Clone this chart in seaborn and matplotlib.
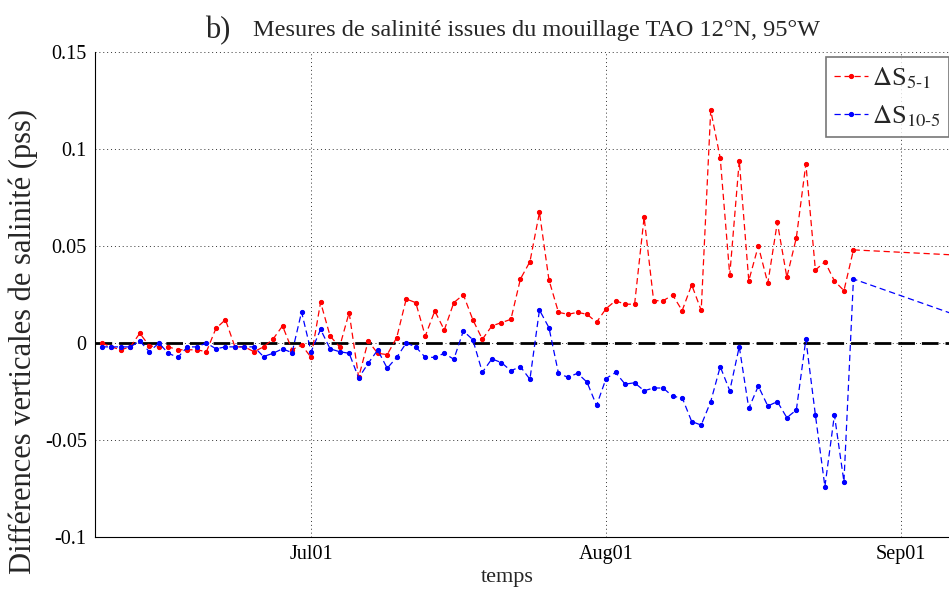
import pandas as pd
import numpy as np
import matplotlib
matplotlib.use("Agg")
import matplotlib.pyplot as plt
import matplotlib.dates as mdates
import seaborn as sns

# daily values, 9 Jun -> 27 Aug, plus one later point
dates = list(pd.date_range("2003-06-09", "2003-08-27", freq="D")) + [pd.Timestamp("2003-09-15")]

ds_5_1 = [0.000, -0.002, -0.0035, -0.002, 0.005, -0.0015, -0.002, -0.002, -0.0035, -0.0035,
          -0.0035, -0.0045, 0.0075, 0.012, -0.002, -0.002, -0.0045, -0.002, 0.002, 0.0088,
          -0.0035, -0.001, -0.0074, 0.021, 0.0036, -0.002, 0.0157, -0.0177, 0.001, -0.0053,
          -0.006, 0.0028, 0.0227, 0.0208, 0.0036, 0.0165, 0.0067, 0.0208, 0.0249, 0.012,
          0.0019, 0.0088, 0.0105, 0.0122, 0.033, 0.0419, 0.0673, 0.0325, 0.0158, 0.0148,
          0.0158, 0.0148, 0.0107, 0.0177, 0.0218, 0.020, 0.020, 0.0648, 0.0218, 0.0218,
          0.0247, 0.0167, 0.030, 0.0168, 0.120, 0.0953, 0.035, 0.094, 0.0321, 0.050,
          0.0308, 0.0622, 0.0339, 0.0543, 0.0923, 0.0376, 0.0419, 0.032, 0.027, 0.048,
          0.0433]

ds_10_5 = [-0.002, -0.002, -0.002, -0.002, 0.001, -0.0045, 0.000, -0.0053, -0.0074, -0.002,
           -0.002, 0.000, -0.003, -0.002, -0.002, -0.002, -0.002, -0.007, -0.0053, -0.003,
           -0.005, 0.016, -0.0045, 0.007, -0.003, -0.0045, -0.0053, -0.018, -0.0105, -0.0036,
           -0.013, -0.0074, 0.000, -0.002, -0.0074, -0.0074, -0.0053, -0.0084, 0.0062, 0.0017,
           -0.0151, -0.0082, -0.0101, -0.0143, -0.0122, -0.0187, 0.017, 0.0079, -0.0156, -0.0177,
           -0.0156, -0.0202, -0.0322, -0.0183, -0.0152, -0.0212, -0.0205, -0.0246, -0.0232, -0.0232,
           -0.0275, -0.0282, -0.0405, -0.0423, -0.0302, -0.0122, -0.0246, -0.0019, -0.0337, -0.0222,
           -0.0325, -0.0302, -0.0385, -0.0345, 0.0019, -0.0371, -0.074, -0.0371, -0.0715, 0.033,
           0.0002]

df = pd.DataFrame({"date": dates, "ds51": ds_5_1, "ds105": ds_10_5})

sns.set_style("white")
plt.rcParams["font.family"] = ["Liberation Serif", "DejaVu Serif"]
plt.rcParams["mathtext.fontset"] = "stix"

fig = plt.figure(figsize=(9.49, 5.93), dpi=100)
ax = fig.add_axes([95 / 949, 1 - 537 / 593, 1 - 95 / 949, (537 - 52) / 593])

ax.axhline(0, color="black", linewidth=2, linestyle=(0, (6, 2.5)), zorder=1)

sns.lineplot(data=df, x="date", y="ds51", ax=ax, color="#ff0000", marker=".",
             markersize=6, markeredgecolor="#ff0000", linewidth=0.9,
             linestyle=(0, (5, 3)), label=r"$\Delta$S$_{5\text{-}1}$", zorder=3)
sns.lineplot(data=df, x="date", y="ds105", ax=ax, color="#0000ff", marker=".",
             markersize=6, markeredgecolor="#0000ff", linewidth=0.9,
             linestyle=(0, (5, 3)), label=r"$\Delta$S$_{10\text{-}5}$", zorder=3)

ax.set_xlim(pd.Timestamp("2003-06-08 07:00"), pd.Timestamp("2003-09-06 01:00"))
ax.set_ylim(-0.1, 0.15)
ax.set_yticks([-0.1, -0.05, 0, 0.05, 0.1, 0.15])
ax.set_yticklabels(["-0.1", "-0.05", "0", "0.05", "0.1", "0.15"])
ax.set_xticks([pd.Timestamp("2003-07-01"), pd.Timestamp("2003-08-01"), pd.Timestamp("2003-09-01")])
ax.xaxis.set_major_formatter(mdates.DateFormatter("%b%d"))

ax.grid(True, color="black", linestyle=(0, (1, 3)), linewidth=0.7, alpha=0.8)
ax.tick_params(direction="in", length=5, labelsize=14.5, colors="black", pad=6)
for side in ["top", "right"]:
    ax.spines[side].set_visible(False)
for side in ["left", "bottom"]:
    ax.spines[side].set_color("black")
    ax.spines[side].set_linewidth(0.8)

ax.set_xlabel("temps", fontsize=16)
ax.xaxis.set_label_coords((507 - 95) / 854, -(568 - 537) / 485)
ax.set_ylabel("Différences verticales de salinité (pss)", fontsize=22)
ax.yaxis.set_label_coords(-(95 - 38) / 854, (537 - 342) / 485)

leg = ax.legend(loc="upper right", bbox_to_anchor=(1.0, 1 - 5 / 485), fontsize=19,
                frameon=True, fancybox=False, borderaxespad=0.0, handlelength=1.3,
                handletextpad=0.15, labelspacing=0.5, borderpad=0.3)
leg.get_frame().set_edgecolor("#555555")
leg.get_frame().set_linewidth(1.2)

fig.text(205 / 949, 1 - 38 / 593, "b)", fontsize=22, ha="left", va="baseline")
fig.text(253 / 949, 1 - 36 / 593, "Mesures de salinité issues du mouillage TAO 12°N, 95°W",
         fontsize=17.5, ha="left", va="baseline")

fig.savefig("out.png", dpi=100)
